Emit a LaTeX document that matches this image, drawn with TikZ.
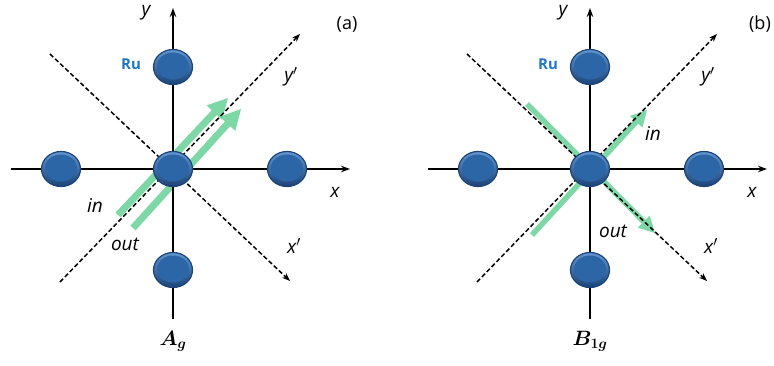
\documentclass[tikz,border=0pt]{standalone}
\usepackage{amsmath}
\usepackage{bm}
\usepackage{fontspec}
\setsansfont{Open Sans}
\usetikzlibrary{arrows.meta,shapes.geometric,calc}
\definecolor{atomblue}{HTML}{2C66A6}
\definecolor{atomdark}{HTML}{1B4478}
\definecolor{atomlight}{HTML}{6496D0}
\definecolor{rucol}{HTML}{1F78C1}
\definecolor{mint}{HTML}{7DD8A6}
\tikzset{
  axisline/.style={line width=1.4pt,-{Stealth[length=9pt,width=6.5pt]}},
  dashline/.style={line width=1.5pt,dash pattern=on 4.5pt off 2.5pt,-{Stealth[length=8pt,width=6pt]}},
  atom/.style={ellipse,minimum width=39pt,minimum height=35pt,inner sep=0pt,
    draw=atomdark,line width=1.2pt,
    path picture={
      \shade[top color=atomlight,bottom color=atomdark]
        (path picture bounding box.south west) rectangle (path picture bounding box.north east);
      \fill[atomblue] ([yshift=1pt]path picture bounding box.center) ellipse [x radius=16pt,y radius=13.5pt];}},
  lab/.style={font=\sffamily\itshape\fontsize{19}{22}\selectfont,inner sep=0pt},
  tag/.style={font=\sffamily\fontsize{18}{20}\selectfont,inner sep=0pt},
  rulab/.style={font=\sffamily\bfseries\fontsize{15}{17}\selectfont,text=rucol,inner sep=0pt},
  sym/.style={font=\fontsize{22}{24}\selectfont,inner sep=0pt}
}
% #1 start, #2 tip, #3 shaft width, #4 head length, #5 head half width, #6 name
\newcommand{\greenarrow}[6]{%
  \coordinate (#6base) at ($(#2)!#4!(#1)$);
  \draw[mint,line width=#3] (#1) -- ($(#2)!#4-0.5pt!(#1)$);
  \fill[mint] (#2) -- ($(#6base)!#5!90:(#2)$) -- ($(#6base)!#5!-90:(#2)$) -- cycle;
}
\newcommand{\mypanelbase}[1]{%
  \coordinate (#1ybot) at (173,319); \coordinate (#1ytop) at (173,8);
  \coordinate (#1xl) at (11,169); \coordinate (#1xr) at (350,169);
  \coordinate (#1ypl) at (60,282); \coordinate (#1ypr) at (300,34);
  \coordinate (#1xpl) at (50,54); \coordinate (#1xpr) at (290,281);
}
\newcommand{\mypanelfront}[1]{%
  \draw[dashline] (#1ypl) -- (#1ypr);
  \draw[dashline] (#1xpl) -- (#1xpr);
  \draw[axisline] (#1ybot) -- (#1ytop);
  \draw[axisline] (#1xl) -- (#1xr);
  \node[atom] (#1c) at (173,169) {};
  \node[atom] (#1t) at (173,67) {};
  \node[atom] (#1b) at (173,270) {};
  \node[atom] (#1l) at (61,169) {};
  \node[atom] (#1r) at (287,169) {};
  \node[rulab] (#1ru) at (131,64) {Ru};
  \node[lab] (#1ylab) at (146,13) {y};
  \node[lab] (#1xlab) at (335,192) {x};
  \node[lab] (#1yplab) at (291,77) {y$'$};
  \node[lab] (#1xplab) at (294,246) {x$'$};
}
\begin{document}
\begin{tikzpicture}[x=1pt,y=-1pt]
\useasboundingbox (0,0) rectangle (774,365);
% panel (a)
\begin{scope}
  \mypanelbase{a}
  \coordinate (ag1s) at (118,215); \coordinate (ag1e) at (228,98);
  \coordinate (ag2s) at (133,228); \coordinate (ag2e) at (241,109);
  \greenarrow{ag1s}{ag1e}{7pt}{20pt}{10.5pt}{agone}
  \greenarrow{ag2s}{ag2e}{7pt}{20pt}{10.5pt}{agtwo}
  \mypanelfront{a}
  \node[lab] (ain) at (95,206) {in};
  \node[lab] (aout) at (125,244) {out};
  \node[tag] (atag) at (347,24) {(a)};
  \node[sym] (asym) at (173,341) {$\boldsymbol{A_g}$};
\end{scope}
% panel (b)
\begin{scope}[xshift=417pt]
  \mypanelbase{b}
  \coordinate (bg1s) at (110,104); \coordinate (bg1e) at (238,233);
  \coordinate (bg2s) at (115,235); \coordinate (bg2e) at (230,110);
  \greenarrow{bg1s}{bg1e}{5.5pt}{16pt}{8.5pt}{bgone}
  \greenarrow{bg2s}{bg2e}{5.5pt}{16pt}{8.5pt}{bgtwo}
  \mypanelfront{b}
  \node[lab] (bin) at (236,134) {in};
  \node[lab] (bout) at (196,231) {out};
  \node[tag] (btag) at (343,24) {(b)};
  \node[sym] (bsym) at (173,341) {$\boldsymbol{B_{1g}}$};
\end{scope}
\end{tikzpicture}
\end{document}
